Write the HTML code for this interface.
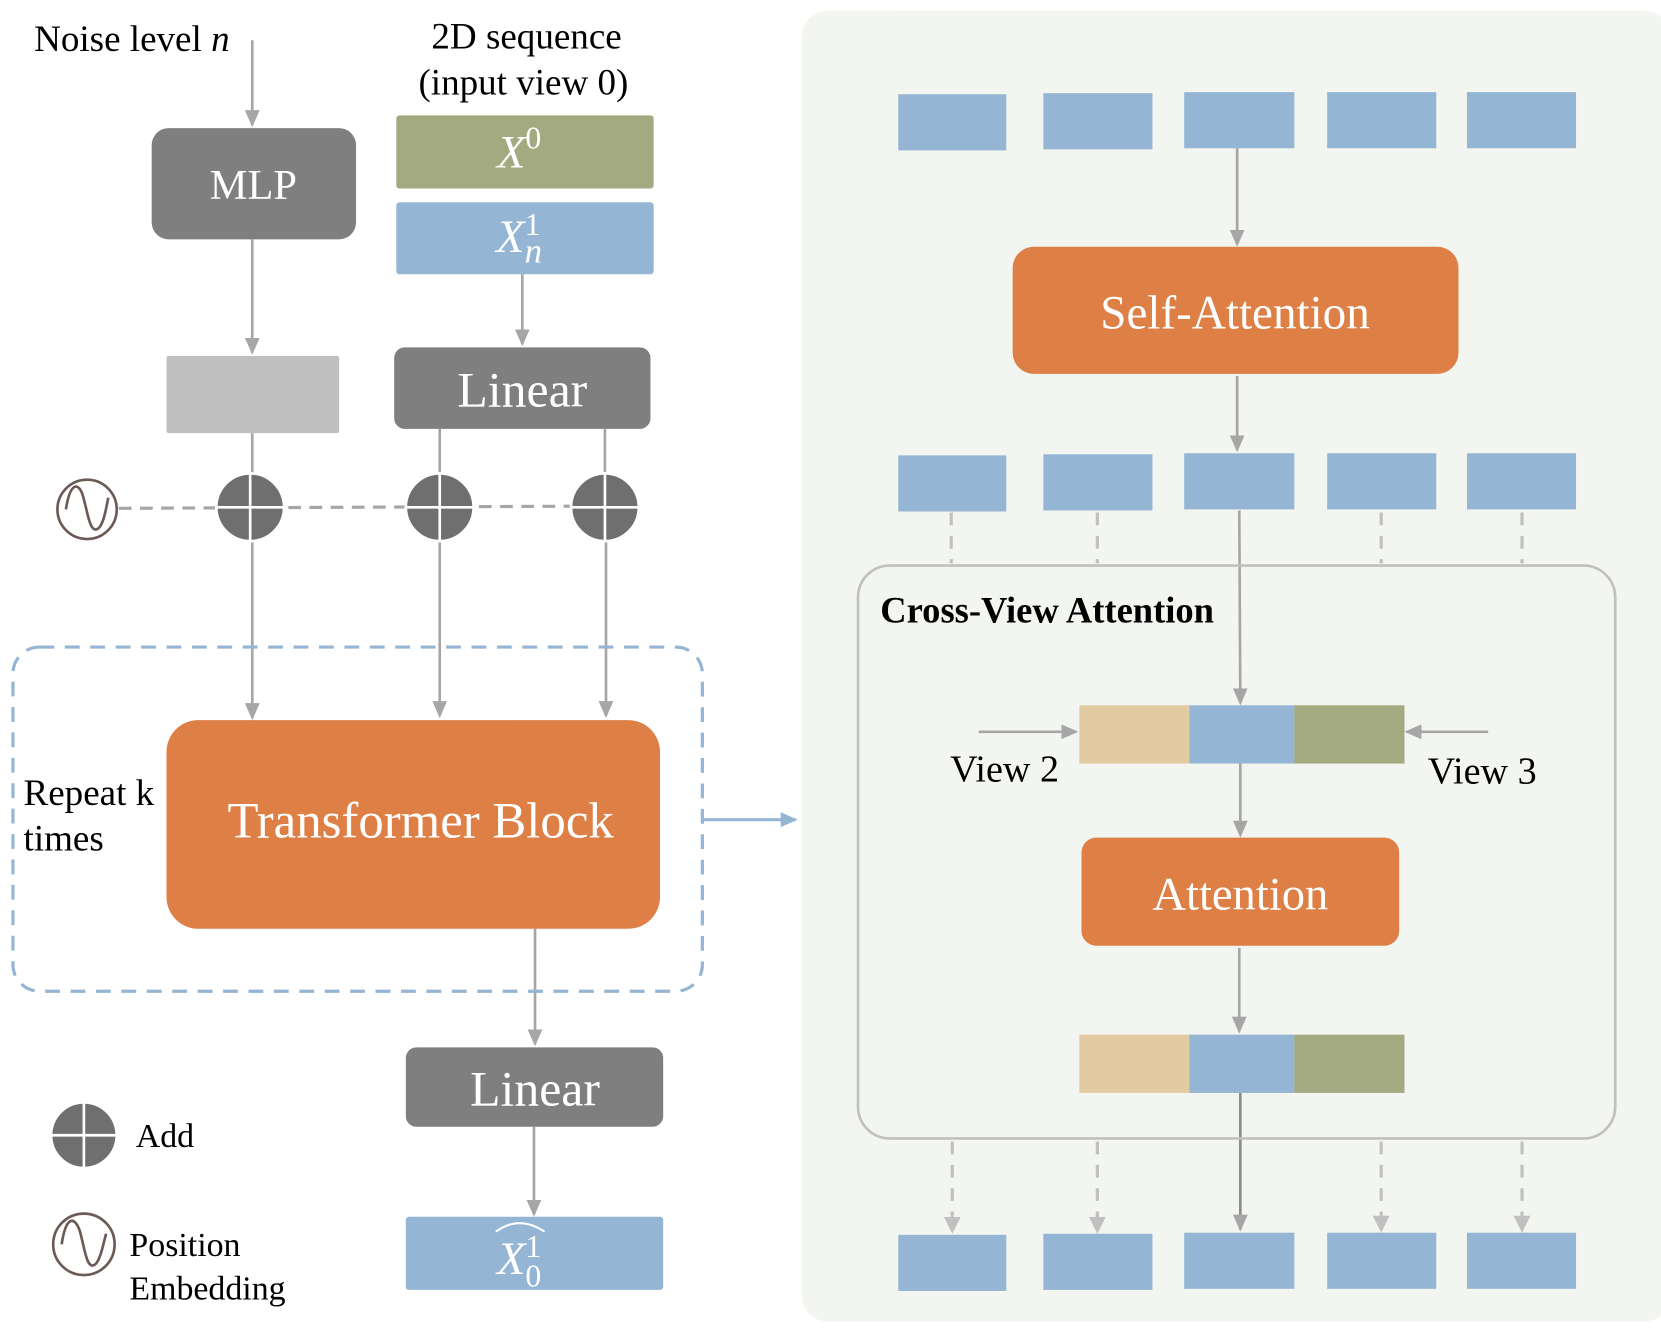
<!DOCTYPE html>
<html><head><meta charset="utf-8"><style>
html,body{margin:0;padding:0;background:#fff;}
svg{display:block;}
text{font-family:"Liberation Serif",serif;}
</style></head><body>
<svg width="1661" height="1328" viewBox="0 0 1568 1254" xmlns="http://www.w3.org/2000/svg">
<defs>
<marker id="ah" markerWidth="16" markerHeight="14" refX="14" refY="7" orient="auto" markerUnits="userSpaceOnUse"><path d="M0,0 L16,7 L0,14 z" fill="#a6a6a6"/></marker>
<marker id="ahl" markerWidth="16" markerHeight="16" refX="14" refY="8" orient="auto" markerUnits="userSpaceOnUse"><path d="M0,0 L16,8 L0,16 z" fill="#c0c0c0"/></marker>
<marker id="ahb" markerWidth="16" markerHeight="14" refX="14" refY="7" orient="auto" markerUnits="userSpaceOnUse"><path d="M0,0 L16,7 L0,14 z" fill="#94b5d3"/></marker>
</defs>
<rect x="0" y="0" width="1568" height="1254" fill="#fff"/>
<rect x="757" y="10" width="820" height="1238" rx="25" fill="#f3f5f0"/>
<g fill="#94b5d3">
<rect x="848" y="89" width="102" height="53"/><rect x="985" y="88" width="103" height="53"/><rect x="1118" y="87" width="104" height="53"/><rect x="1253" y="87" width="103" height="53"/><rect x="1385" y="87" width="103" height="53"/>
<rect x="848" y="430" width="102" height="53"/><rect x="985" y="429" width="103" height="53"/><rect x="1118" y="428" width="104" height="53"/><rect x="1253" y="428" width="103" height="53"/><rect x="1385" y="428" width="103" height="53"/>
<rect x="848" y="1166" width="102" height="53"/><rect x="985" y="1165" width="103" height="53"/><rect x="1118" y="1164" width="104" height="53"/><rect x="1253" y="1164" width="103" height="53"/><rect x="1385" y="1164" width="103" height="53"/>
</g>
<g stroke="#a6a6a6" stroke-width="2.5" fill="none">
<line x1="1168" y1="140" x2="1168" y2="231" marker-end="url(#ah)"/>
<line x1="1168" y1="355" x2="1168" y2="425" marker-end="url(#ah)"/>
<line x1="1170" y1="482" x2="1171" y2="664" marker-end="url(#ah)"/>
<line x1="924" y1="691" x2="1016" y2="691" marker-end="url(#ah)"/>
<line x1="1405" y1="691" x2="1328" y2="691" marker-end="url(#ah)"/>
<line x1="1171" y1="721" x2="1171" y2="789" marker-end="url(#ah)"/>
<line x1="1170" y1="895" x2="1170" y2="974" marker-end="url(#ah)"/>
<line x1="1171" y1="1032" x2="1171" y2="1161" marker-end="url(#ah)" stroke="#8c8c8c"/>
</g>
<g stroke="#c0c0c0" stroke-width="3" stroke-dasharray="12,10" fill="none">
<line x1="898" y1="484" x2="898" y2="532"/><line x1="1036" y1="484" x2="1036" y2="532"/><line x1="1304" y1="484" x2="1304" y2="532"/><line x1="1437" y1="484" x2="1437" y2="532"/>
<line x1="899" y1="1078" x2="899" y2="1163" marker-end="url(#ahl)"/><line x1="1036" y1="1078" x2="1036" y2="1163" marker-end="url(#ahl)"/><line x1="1304" y1="1078" x2="1304" y2="1162" marker-end="url(#ahl)"/><line x1="1437" y1="1078" x2="1437" y2="1162" marker-end="url(#ahl)"/>
</g>
<rect x="956" y="233" width="421" height="120" rx="20" fill="#de7f46"/>
<text x="1166" y="310" font-size="44.5" fill="#fff" text-anchor="middle">Self-Attention</text>
<rect x="810" y="534" width="715" height="541" rx="30" fill="none" stroke="#c0c0c0" stroke-width="2.5"/>
<text x="831" y="588" font-size="34.5" font-weight="bold" fill="#000">Cross-View Attention</text>
<rect x="1019" y="666" width="104" height="55" fill="#e2cba3"/><rect x="1123" y="666" width="99" height="55" fill="#94b5d3"/><rect x="1222" y="666" width="104" height="55" fill="#a3aa80"/>
<text x="897" y="738" font-size="36">View 2</text>
<text x="1348" y="740" font-size="36">View 3</text>
<rect x="1021" y="791" width="300" height="102" rx="14" fill="#de7f46"/>
<text x="1171" y="859" font-size="44" fill="#fff" text-anchor="middle">Attention</text>
<rect x="1019" y="977" width="104" height="55" fill="#e2cba3"/><rect x="1123" y="977" width="99" height="55" fill="#94b5d3"/><rect x="1222" y="977" width="104" height="55" fill="#a3aa80"/>

<text x="32" y="48" font-size="35">Noise level <tspan font-style="italic">n</tspan></text>
<text x="497" y="46" font-size="35" text-anchor="middle">2D sequence</text>
<text x="494" y="89" font-size="35" text-anchor="middle">(input view 0)</text>
<rect x="143" y="121" width="193" height="105" rx="16" fill="#7f7f7f"/>
<text x="239" y="188" font-size="40" fill="#fff" text-anchor="middle">MLP</text>
<rect x="374" y="109" width="243" height="69" rx="3" fill="#a3aa80"/>
<text x="490" y="158" font-size="44" fill="#fff" text-anchor="middle" font-style="italic">X<tspan font-size="30" dy="-18" font-style="normal">0</tspan></text>
<rect x="374" y="191" width="243" height="68" rx="3" fill="#94b5d3"/>
<text x="490" y="238" font-size="44" fill="#fff" text-anchor="middle" font-style="italic">X<tspan font-size="30" dy="-16" font-style="normal">1</tspan><tspan font-size="33" dx="-15" dy="26">n</tspan></text>
<rect x="372" y="328" width="242" height="77" rx="10" fill="#7f7f7f"/>
<text x="493" y="384" font-size="47" fill="#fff" text-anchor="middle">Linear</text>
<rect x="157" y="336" width="163" height="73" rx="2" fill="#bfbfbf"/>
<g stroke="#a6a6a6" stroke-width="2.5" fill="none">
<line x1="238" y1="38" x2="238" y2="118" marker-end="url(#ah)"/>
<line x1="238" y1="226" x2="238" y2="333" marker-end="url(#ah)"/>
<line x1="493" y1="259" x2="493" y2="325" marker-end="url(#ah)"/>
<line x1="238" y1="409" x2="238" y2="450"/><line x1="415" y1="405" x2="415" y2="450"/><line x1="571" y1="405" x2="571" y2="450"/>
<line x1="238" y1="510" x2="238" y2="678" marker-end="url(#ah)"/>
<line x1="415" y1="510" x2="415" y2="676" marker-end="url(#ah)"/>
<line x1="572" y1="510" x2="572" y2="676" marker-end="url(#ah)"/>
<line x1="505" y1="877" x2="505" y2="986" marker-end="url(#ah)"/>
<line x1="504" y1="1064" x2="504" y2="1147" marker-end="url(#ah)"/>
</g>
<line x1="112" y1="480" x2="540" y2="478" stroke="#a6a6a6" stroke-width="3" stroke-dasharray="12,8"/>
<g fill="#6f6f6f" stroke="#fff" stroke-width="2.5">
<circle cx="236" cy="479" r="32"/><line x1="204" y1="479" x2="268" y2="479"/><line x1="236" y1="447" x2="236" y2="511"/>
<circle cx="415" cy="479" r="32"/><line x1="383" y1="479" x2="447" y2="479"/><line x1="415" y1="447" x2="415" y2="511"/>
<circle cx="571" cy="479" r="32"/><line x1="539" y1="479" x2="603" y2="479"/><line x1="571" y1="447" x2="571" y2="511"/>
<circle cx="79" cy="1072" r="31"/><line x1="48" y1="1072" x2="110" y2="1072"/><line x1="79" y1="1041" x2="79" y2="1103"/>
</g>
<g fill="#fff" stroke="#6b5a55" stroke-width="2.5">
<circle cx="82" cy="481" r="28"/>
<path d="M62,481 C66,455 74,455 78,468 C82,481 84,500 90,500 C97,500 100,480 102,470" fill="none"/>
<circle cx="79" cy="1175" r="29"/>
<path d="M58,1175 C62,1148 70,1148 75,1162 C79,1175 81,1195 87,1195 C94,1195 97,1175 100,1165" fill="none"/>
</g>
<rect x="12" y="611" width="651" height="325" rx="25" fill="none" stroke="#94b5d3" stroke-width="3" stroke-dasharray="14,10"/>
<rect x="157" y="680" width="466" height="197" rx="30" fill="#de7f46"/>
<text x="397" y="791" font-size="48" fill="#fff" text-anchor="middle">Transformer Block</text>
<text x="22" y="760" font-size="35">Repeat k</text>
<text x="22" y="803" font-size="35">times</text>
<line x1="663" y1="774" x2="751" y2="774" stroke="#94b5d3" stroke-width="3" marker-end="url(#ahb)"/>
<rect x="383" y="989" width="243" height="75" rx="10" fill="#7f7f7f"/>
<text x="505" y="1044" font-size="47" fill="#fff" text-anchor="middle">Linear</text>
<rect x="383" y="1149" width="243" height="69" rx="3" fill="#94b5d3"/>
<text x="490" y="1203" font-size="44" fill="#fff" text-anchor="middle" font-style="italic">X<tspan font-size="30" dy="-16" font-style="normal">1</tspan><tspan font-size="30" dx="-15" dy="28" font-style="normal">0</tspan></text>
<path d="M468,1163 Q490,1147 514,1163" stroke="#fff" stroke-width="2" fill="none"/>
<text x="128" y="1083" font-size="32">Add</text>
<text x="122" y="1186" font-size="32">Position</text>
<text x="122" y="1227" font-size="32">Embedding</text>
</svg>
</body></html>
